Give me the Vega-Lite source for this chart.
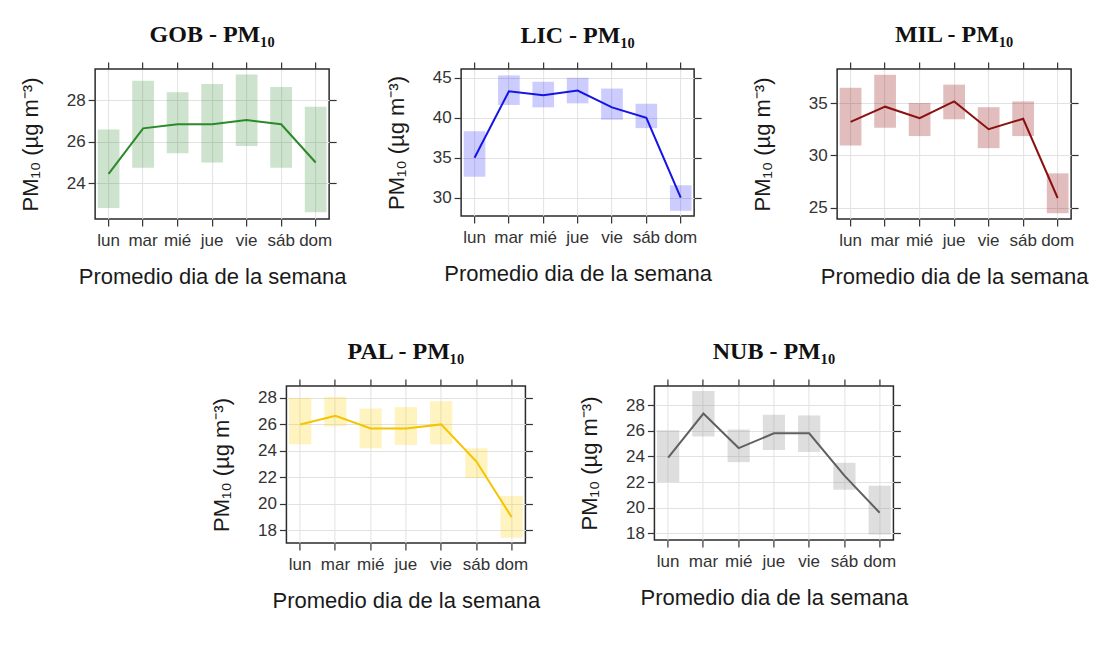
{
  "$schema": "https://vega.github.io/schema/vega-lite/v6.json",
  "padding": {"left": 18, "top": 22, "right": 3, "bottom": 4},
  "background": "white",
  "datasets": {
    "GOB": [
      {"dia": "lun", "media": 24.45, "lo": 22.8, "hi": 26.6},
      {"dia": "mar", "media": 26.65, "lo": 24.75, "hi": 28.95},
      {"dia": "mié", "media": 26.85, "lo": 25.45, "hi": 28.4},
      {"dia": "jue", "media": 26.85, "lo": 25.0, "hi": 28.8},
      {"dia": "vie", "media": 27.05, "lo": 25.8, "hi": 29.25},
      {"dia": "sáb", "media": 26.85, "lo": 24.75, "hi": 28.65},
      {"dia": "dom", "media": 25.0, "lo": 22.6, "hi": 27.7}
    ],
    "LIC": [
      {"dia": "lun", "media": 35.0, "lo": 32.6, "hi": 38.3},
      {"dia": "mar", "media": 43.3, "lo": 41.6, "hi": 45.3},
      {"dia": "mié", "media": 42.8, "lo": 41.3, "hi": 44.5},
      {"dia": "jue", "media": 43.4, "lo": 41.8, "hi": 45.0},
      {"dia": "vie", "media": 41.3, "lo": 39.75, "hi": 43.65},
      {"dia": "sáb", "media": 40.0, "lo": 38.7, "hi": 41.75},
      {"dia": "dom", "media": 30.0, "lo": 28.35, "hi": 31.55}
    ],
    "MIL": [
      {"dia": "lun", "media": 33.2, "lo": 30.95, "hi": 36.45},
      {"dia": "mar", "media": 34.65, "lo": 32.65, "hi": 37.7},
      {"dia": "mié", "media": 33.55, "lo": 31.85, "hi": 35.0},
      {"dia": "jue", "media": 35.15, "lo": 33.45, "hi": 36.75},
      {"dia": "vie", "media": 32.5, "lo": 30.7, "hi": 34.6},
      {"dia": "sáb", "media": 33.5, "lo": 31.85, "hi": 35.15},
      {"dia": "dom", "media": 25.95, "lo": 24.5, "hi": 28.3}
    ],
    "PAL": [
      {"dia": "lun", "media": 26.0, "lo": 24.5, "hi": 28.0},
      {"dia": "mar", "media": 26.65, "lo": 25.85, "hi": 28.07},
      {"dia": "mié", "media": 25.7, "lo": 24.2, "hi": 27.2},
      {"dia": "jue", "media": 25.7, "lo": 24.45, "hi": 27.3},
      {"dia": "vie", "media": 26.0, "lo": 24.5, "hi": 27.75},
      {"dia": "sáb", "media": 23.2, "lo": 21.95, "hi": 24.2},
      {"dia": "dom", "media": 19.0, "lo": 17.45, "hi": 20.6}
    ],
    "NUB": [
      {"dia": "lun", "media": 23.9, "lo": 22.0, "hi": 26.05},
      {"dia": "mar", "media": 27.35, "lo": 25.55, "hi": 29.1},
      {"dia": "mié", "media": 24.65, "lo": 23.55, "hi": 26.1},
      {"dia": "jue", "media": 25.8, "lo": 24.5, "hi": 27.25},
      {"dia": "vie", "media": 25.8, "lo": 24.35, "hi": 27.2},
      {"dia": "sáb", "media": 22.5, "lo": 21.4, "hi": 23.5},
      {"dia": "dom", "media": 19.6, "lo": 17.9, "hi": 21.7}
    ]
  },
  "vconcat": [
    {
      "hconcat": [
        {
          "title": {"text": "GOB - PM₁₀", "offset": 14},
          "width": 234, "height": 150,
          "data": {"name": "GOB"},
          "layer": [
            {
              "mark": {"type": "bar", "color": "#2e8b2e", "opacity": 0.24},
              "encoding": {
                "x": {"field": "dia", "type": "ordinal", "sort": ["lun", "mar", "mié", "jue", "vie", "sáb", "dom"],
                      "scale": {"type": "band", "paddingInner": 0.37, "paddingOuter": 0.075},
                      "axis": {"orient": "bottom", "title": "Promedio dia de la semana", "bandPosition": 0.5, "grid": true, "labelAngle": 0}},
                "y": {"field": "lo", "type": "quantitative", "scale": {"domain": [22.27, 29.52], "nice": false, "zero": false},
                      "axis": {"orient": "left", "title": "PM₁₀ (µg m⁻³)", "values": [24, 26, 28], "grid": true}},
                "y2": {"field": "hi"}
              }
            },
            {
              "mark": {"type": "line", "color": "#2a8a2a", "strokeWidth": 2},
              "encoding": {
                "x": {"field": "dia", "type": "ordinal", "sort": ["lun", "mar", "mié", "jue", "vie", "sáb", "dom"],
                      "axis": {"orient": "top", "labels": false, "ticks": true, "tickSize": 7, "title": null, "grid": false, "bandPosition": 0.5, "minExtent": 0}},
                "y": {"field": "media", "type": "quantitative",
                      "axis": {"orient": "right", "labels": false, "ticks": true, "title": null, "grid": false, "values": [24, 26, 28], "minExtent": 0}}
              }
            }
          ],
          "resolve": {"axis": {"x": "independent", "y": "independent"}}
        },
        {
          "title": {"text": "LIC - PM₁₀", "offset": 13},
          "width": 233, "height": 147,
          "data": {"name": "LIC"},
          "layer": [
            {
              "mark": {"type": "bar", "color": "#0000ff", "opacity": 0.2},
              "encoding": {
                "x": {"field": "dia", "type": "ordinal", "sort": ["lun", "mar", "mié", "jue", "vie", "sáb", "dom"],
                      "scale": {"type": "band", "paddingInner": 0.37, "paddingOuter": 0.075},
                      "axis": {"orient": "bottom", "title": "Promedio dia de la semana", "bandPosition": 0.5, "grid": true, "labelAngle": 0}},
                "y": {"field": "lo", "type": "quantitative", "scale": {"domain": [27.7, 46.1], "nice": false, "zero": false},
                      "axis": {"orient": "left", "title": "PM₁₀ (µg m⁻³)", "values": [30, 35, 40, 45], "grid": true}},
                "y2": {"field": "hi"}
              }
            },
            {
              "mark": {"type": "line", "color": "#1414e6", "strokeWidth": 2},
              "encoding": {
                "x": {"field": "dia", "type": "ordinal", "sort": ["lun", "mar", "mié", "jue", "vie", "sáb", "dom"],
                      "axis": {"orient": "top", "labels": false, "ticks": true, "tickSize": 7, "title": null, "grid": false, "bandPosition": 0.5, "minExtent": 0}},
                "y": {"field": "media", "type": "quantitative",
                      "axis": {"orient": "right", "labels": false, "ticks": true, "title": null, "grid": false, "values": [30, 35, 40, 45], "minExtent": 0}}
              }
            }
          ],
          "resolve": {"axis": {"x": "independent", "y": "independent"}}
        },
        {
          "title": {"text": "MIL - PM₁₀", "offset": 14},
          "width": 234, "height": 150,
          "data": {"name": "MIL"},
          "layer": [
            {
              "mark": {"type": "bar", "color": "#8b0000", "opacity": 0.26},
              "encoding": {
                "x": {"field": "dia", "type": "ordinal", "sort": ["lun", "mar", "mié", "jue", "vie", "sáb", "dom"],
                      "scale": {"type": "band", "paddingInner": 0.37, "paddingOuter": 0.075},
                      "axis": {"orient": "bottom", "title": "Promedio dia de la semana", "bandPosition": 0.5, "grid": true, "labelAngle": 0}},
                "y": {"field": "lo", "type": "quantitative", "scale": {"domain": [23.95, 38.24], "nice": false, "zero": false},
                      "axis": {"orient": "left", "title": "PM₁₀ (µg m⁻³)", "values": [25, 30, 35], "grid": true, "titlePadding": 34}},
                "y2": {"field": "hi"}
              }
            },
            {
              "mark": {"type": "line", "color": "#8b1010", "strokeWidth": 2},
              "encoding": {
                "x": {"field": "dia", "type": "ordinal", "sort": ["lun", "mar", "mié", "jue", "vie", "sáb", "dom"],
                      "axis": {"orient": "top", "labels": false, "ticks": true, "tickSize": 7, "title": null, "grid": false, "bandPosition": 0.5, "minExtent": 0}},
                "y": {"field": "media", "type": "quantitative",
                      "axis": {"orient": "right", "labels": false, "ticks": true, "title": null, "grid": false, "values": [25, 30, 35], "minExtent": 28}}
              }
            }
          ],
          "resolve": {"axis": {"x": "independent", "y": "independent"}}
        }
      ],
      "spacing": 37
    },
    {
      "hconcat": [
        {
          "title": {"text": "PAL - PM₁₀", "offset": 14},
          "width": 239, "height": 157,
          "data": {"name": "PAL"},
          "layer": [
            {
              "mark": {"type": "bar", "color": "#ffd000", "opacity": 0.25},
              "encoding": {
                "x": {"field": "dia", "type": "ordinal", "sort": ["lun", "mar", "mié", "jue", "vie", "sáb", "dom"],
                      "scale": {"type": "band", "paddingInner": 0.37, "paddingOuter": 0.075},
                      "axis": {"orient": "bottom", "title": "Promedio dia de la semana", "bandPosition": 0.5, "grid": true, "labelAngle": 0}},
                "y": {"field": "lo", "type": "quantitative", "scale": {"domain": [17.05, 28.9], "nice": false, "zero": false},
                      "axis": {"orient": "left", "title": "PM₁₀ (µg m⁻³)", "values": [18, 20, 22, 24, 26, 28], "grid": true}},
                "y2": {"field": "hi"}
              }
            },
            {
              "mark": {"type": "line", "color": "#f5c400", "strokeWidth": 2},
              "encoding": {
                "x": {"field": "dia", "type": "ordinal", "sort": ["lun", "mar", "mié", "jue", "vie", "sáb", "dom"],
                      "axis": {"orient": "top", "labels": false, "ticks": true, "tickSize": 7, "title": null, "grid": false, "bandPosition": 0.5, "minExtent": 0}},
                "y": {"field": "media", "type": "quantitative",
                      "axis": {"orient": "right", "labels": false, "ticks": true, "title": null, "grid": false, "values": [18, 20, 22, 24, 26, 28], "minExtent": 0}}
              }
            }
          ],
          "resolve": {"axis": {"x": "independent", "y": "independent"}}
        },
        {
          "title": {"text": "NUB - PM₁₀", "offset": 14},
          "width": 239, "height": 154,
          "data": {"name": "NUB"},
          "layer": [
            {
              "mark": {"type": "bar", "color": "#999999", "opacity": 0.32},
              "encoding": {
                "x": {"field": "dia", "type": "ordinal", "sort": ["lun", "mar", "mié", "jue", "vie", "sáb", "dom"],
                      "scale": {"type": "band", "paddingInner": 0.37, "paddingOuter": 0.075},
                      "axis": {"orient": "bottom", "title": "Promedio dia de la semana", "bandPosition": 0.5, "grid": true, "labelAngle": 0}},
                "y": {"field": "lo", "type": "quantitative", "scale": {"domain": [17.47, 29.5], "nice": false, "zero": false},
                      "axis": {"orient": "left", "title": "PM₁₀ (µg m⁻³)", "values": [18, 20, 22, 24, 26, 28], "grid": true}},
                "y2": {"field": "hi"}
              }
            },
            {
              "mark": {"type": "line", "color": "#606060", "strokeWidth": 2},
              "encoding": {
                "x": {"field": "dia", "type": "ordinal", "sort": ["lun", "mar", "mié", "jue", "vie", "sáb", "dom"],
                      "axis": {"orient": "top", "labels": false, "ticks": true, "tickSize": 7, "title": null, "grid": false, "bandPosition": 0.5, "minExtent": 0}},
                "y": {"field": "media", "type": "quantitative",
                      "axis": {"orient": "right", "labels": false, "ticks": true, "title": null, "grid": false, "values": [18, 20, 22, 24, 26, 28], "minExtent": 0}}
              }
            }
          ],
          "resolve": {"axis": {"x": "independent", "y": "independent"}}
        }
      ],
      "spacing": 36
    }
  ],
  "spacing": 51,
  "center": true,
  "config": {
    "font": "Liberation Sans",
    "view": {"stroke": "#2b2b2b", "strokeWidth": 1.5},
    "axis": {
      "domain": false,
      "ticks": true,
      "tickColor": "#333333",
      "tickSize": 7,
      "tickWidth": 1.2,
      "labelFont": "Liberation Sans",
      "labelFontSize": 17,
      "labelColor": "#333333",
      "labelPadding": 3,
      "labelOverlap": false,
      "gridColor": "#e2e2e2",
      "gridWidth": 1,
      "titleFont": "Liberation Sans",
      "titleFontSize": 22,
      "titleFontWeight": "normal",
      "titleColor": "#1a1a1a"
    },
    "axisY": {"titlePadding": 24},
    "axisX": {"titlePadding": 18, "labelPadding": 6},
    "title": {"font": "Liberation Serif", "fontSize": 24, "fontWeight": "bold", "color": "#111111"}
  }
}
